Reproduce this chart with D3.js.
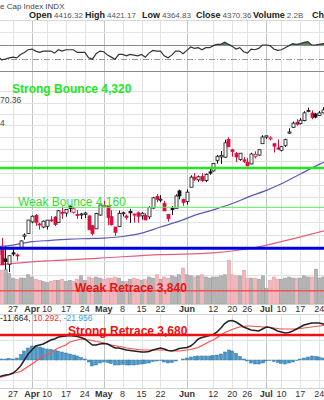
<!DOCTYPE html>
<html><head><meta charset="utf-8">
<script src="https://cdn.jsdelivr.net/npm/d3@7"></script>
<style>html,body{margin:0;padding:0;background:#fff;overflow:hidden}svg{display:block;font-family:"Liberation Sans",Arial,sans-serif}</style>
</head><body><svg id="c" width="324" height="400"></svg>
<script>
// ---------- DATA ----------
const dates = ["03-20","03-21","03-22","03-23","03-24","03-27","03-28","03-29","03-30","03-31",
"04-03","04-04","04-05","04-06","04-10","04-11","04-12","04-13","04-14","04-17","04-18","04-19","04-20","04-21","04-24","04-25","04-26","04-27","04-28",
"05-01","05-02","05-03","05-04","05-05","05-08","05-09","05-10","05-11","05-12","05-15","05-16","05-17","05-18","05-19","05-22","05-23","05-24","05-25","05-26","05-30","05-31",
"06-01","06-02","06-05","06-06","06-07","06-08","06-09","06-12","06-13","06-14","06-15","06-16","06-20","06-21","06-22","06-23","06-26","06-27","06-28","06-29","06-30",
"07-03","07-05","07-06","07-07","07-10","07-11","07-12","07-13","07-14","07-17","07-18","07-19","07-20","07-21","07-24","07-25","07-26"];
const open = [3917,3975,4002,3959,3939,3982,3974,3999,4046,4057,4102,4128,4094,4082,4085,4110,4121,4100,4140,4137,4164,4140,4131,4132,4132,4126,4087,4075,4129,
4166,4165,4123,4082,4084,4136,4125,4143,4133,4138,4126,4127,4122,4157,4204,4191,4176,4132,4156,4156,4226,4191,
4183,4241,4282,4271,4285,4268,4304,4308,4352,4366,4365,4440,4396,4380,4355,4354,4344,4337,4367,4374,4422,
4450,4442,4422,4404,4394,4415,4467,4492,4514,4508,4521,4563,4554,4550,4543,4555,4559];
const high = [3956,4009,4039,4007,3972,3996,3979,4030,4057,4110,4128,4133,4099,4108,4109,4125,4125,4150,4163,4152,4169,4162,4149,4138,4142,4127,4090,4138,4170,
4186,4165,4148,4083,4147,4143,4131,4154,4135,4143,4141,4136,4164,4202,4213,4209,4186,4133,4165,4212,4231,4195,
4232,4290,4299,4289,4299,4298,4322,4340,4375,4391,4439,4449,4400,4387,4382,4366,4362,4384,4390,4398,4458,
4456,4454,4422,4440,4412,4443,4488,4517,4527,4532,4562,4578,4565,4555,4563,4580,4583];
const low = [3916,3971,3936,3919,3909,3970,3952,3999,4033,4056,4097,4087,4072,4077,4072,4102,4086,4099,4114,4123,4140,4135,4114,4113,4117,4071,4049,4075,4127,
4164,4089,4088,4048,4084,4124,4111,4098,4099,4099,4111,4109,4113,4154,4180,4180,4145,4103,4129,4156,4192,4166,
4171,4241,4266,4263,4263,4262,4292,4305,4338,4337,4362,4407,4367,4345,4350,4341,4328,4335,4360,4371,4422,
4442,4436,4385,4397,4389,4408,4463,4490,4499,4504,4518,4557,4527,4531,4541,4553,4547];
const close = [3951.6,4002.9,3937.0,3948.7,3971.0,3977.5,3971.3,4027.8,4050.8,4109.3,4124.5,4100.6,4090.4,4105.0,4109.1,4108.9,4092.0,4146.2,4137.6,4151.3,4154.9,4154.5,4129.8,4133.5,4137.0,4071.6,4056.0,4135.4,4169.5,
4167.9,4119.6,4090.8,4061.2,4136.3,4138.1,4119.2,4137.6,4130.6,4124.1,4136.3,4109.9,4158.8,4198.1,4192.0,4192.6,4145.6,4115.2,4151.3,4205.5,4205.5,4179.8,
4221.0,4282.4,4273.8,4283.9,4267.5,4293.9,4298.9,4338.9,4369.0,4372.6,4425.8,4409.6,4388.7,4365.7,4381.9,4348.3,4328.8,4378.4,4376.9,4396.4,4450.4,
4455.6,4446.8,4411.6,4399.0,4409.5,4439.3,4472.2,4510.0,4505.4,4522.8,4555.0,4565.7,4534.9,4536.3,4554.6,4567.5,4566.8];
const volume = [2.9,2.8,3.0,3.1,2.7,2.3,2.2,2.3,2.3,2.6,2.4,2.2,2.1,2.0,1.9,2.0,2.1,2.1,2.2,2.0,2.1,2.0,2.2,2.5,2.1,2.4,2.3,2.4,2.3,
2.2,2.3,2.3,2.4,2.3,2.0,2.0,2.2,2.3,2.2,2.1,2.2,2.4,2.3,2.6,2.2,2.4,2.3,2.5,2.4,2.6,3.2,
2.6,2.5,2.4,2.5,2.6,2.4,2.3,2.4,2.4,2.5,2.6,3.9,2.6,2.5,2.5,3.0,2.3,2.3,2.3,2.2,2.5,
1.4,2.1,2.4,2.2,2.2,2.3,2.4,2.3,2.3,2.3,2.5,2.4,2.4,3.1,2.3,2.4,2.4];
const rsi = [48,53,48,49,51,52,51,56,59,63,64,61,59,61,61,61,58,63,61,63,63,63,59,59,59,51,49,57,61,
60,55,52,49,56,56,54,56,55,54,56,52,58,62,61,61,54,51,55,61,61,57,
62,67,65,66,63,66,66,69,71,71,74,71,68,64,66,60,58,64,63,65,70,
70,69,64,62,63,66,69,72,71,72,74,75,70,70,71,72,72];
const macd = [-36,-34,-32,-30,-29,-26,-20,-12,0,12,20,28,30,32,36,40,42,46,47,48,49,48,47,45,42,36,30,30,32,
33,32,28,24,24,22,20,19,18,17,16,16,17,20,22,24,22,19,18,20,23,24,
25,28,34,42,45,47,49,51,56,64,73,78,79,76,71,66,63,60,59,58,62,
66,65,62,58,56,54,55,58,62,66,70,72,74,74,74,72,72];
const signal = [-36,-35,-34,-32,-29,-27,-25,-23,-18,-13,-8,-3,3,8,10,15,20,24,27,30,36,38,40,42,41,40,39,37,36,
34,32,30,29,27,26,24,23,22,21,20,20,20,20,20,20,20,19,19,18,18,19,
20,21,23,25,29,33,37,40,45,50,55,58,61,64,66,67,68,68,67,67,66,
66,65,64,63,62,62,62,62,62,63,64,65,66,67,68,69,70];
const hist = [0,1,2,2,3,2,4,11,18,24,28,28,26,24,22,21,19,18,16,14,12,10,8,5,2,-4,-12,-10,-6,
-4,-5,-7,-10,-10,-9,-10,-10,-10,-9,-8,-7,-6,-3,-2,-1,-4,-6,-5,-2,0,2,
4,6,7,8,8,8,8,9,10,12,16,20,18,13,7,2,-2,-6,-8,-8,-6,
-2,-1,-3,-5,-7,-8,-6,-4,-1,2,4,6,8,7,6,4,3];
const ma50Day = [0,5,10,15,20,25,29,34,39,44,49,53,58,63,67,72,76,81,86,88];
const ma50 = [4005,4012,4025,4030,4035,4037,4039,4045,4058,4082,4105,4128,4150,4175,4200,4228,4255,4295,4335,4350];
const ma200Day = [0,7,15,28,44,58,65,71,79,88];
const ma200 = [3934,3944,3952,3962,3975,3982,3993,4008,4036,4070];
const tickDay = [5,10,14,19,24,29,34,39,44,51,58,63,67,72,76,81,86];
const tickLabel = ["27","Apr","10","17","24","May","8","15","22","Jun","12","20","26","Jul","10","17","24"];
const tickMonth = [false,true,false,false,false,true,false,false,false,true,false,false,false,true,false,false,false];
const priceGrid = [3850,3900,3950,4000,4050,4100,4150,4200,4250,4300,4350,4400,4450,4500,4550,4600,4650];
const levels = [4320,4160,4000,3840,3680];
const levelText = ["Strong Bounce 4,320","Weak Bounce 4,160","","Weak Retrace 3,840","Strong Retrace 3,680"];
const titleText = "e Cap Index INDX";
const quoteLabels = ["Open","High","Low","Close","Volume","Ch"];
const quoteValues = ["4416.32","4421.17","4364.83","4370.36","2.2B",""];
const legendTexts = ["70.36","4"];
const macdLegend = ["-11.664, ","10.292, ","-21.956"];

// ---------- LAYOUT / STYLE ----------
const W = 324, H = 400;
const P = {rsiTop:20, rsiBot:72, priceTop:72, priceBot:304, macdTop:314, macdBot:388};
const quoteX = [29,85,142,196,253,312];
const levelStyle = [
  {c:"#22e622", w:2.5, tc:"#22e622", bold:true, tx:12, dy:-75},
  {c:"#55ee55", w:1, tc:"#33dd33", bold:false, tx:18, dy:-1},
  {c:"#0000dd", w:3, tc:"#0000dd", bold:true, tx:0, dy:0},
  {c:"#ee5555", w:1.5, tc:"#ee1111", bold:true, tx:75, dy:1},
  {c:"#ee1111", w:2.5, tc:"#ee1111", bold:true, tx:68, dy:-0.5}
];
const RED = "#dd1040", BLK = "#111";

const svg = d3.select("#c");
const x = d3.scaleLinear().domain([5,86]).range([13,319.2]);
const yP = d3.scaleLog().domain([3680,4320]).range([335,168]);
const yR = d3.scaleLinear().domain([30,70]).range([72,45]);
const yM = d3.scaleLinear().domain([0,20]).range([360,350]);
const yV = d3.scaleLinear().domain([0,4.8]).range([P.priceBot,250]);
const idx = d3.range(dates.length);

const defs = svg.append("defs");
function clip(id,y0,y1){defs.append("clipPath").attr("id",id).append("rect").attr("x",0).attr("y",y0).attr("width",W).attr("height",y1-y0);}
clip("cr",P.rsiTop,P.rsiBot); clip("cp",P.priceTop,P.priceBot); clip("cm",P.macdTop,P.macdBot);

// header
svg.append("text").attr("x",0).attr("y",9).attr("font-size",8).attr("fill","#444").text(titleText);
quoteLabels.forEach((l,i)=>{
  const t = svg.append("text").attr("x",quoteX[i]).attr("y",17.8).attr("font-size",9);
  t.append("tspan").attr("font-weight","bold").attr("fill","#222").text(l);
  if(quoteValues[i]) t.append("tspan").attr("dx",2).attr("font-size",8).attr("fill","#555").text(quoteValues[i]);
});

// vertical grid for all panels
[[P.rsiTop,P.rsiBot],[P.priceTop,P.priceBot],[P.macdTop,P.macdBot]].forEach(([a,b])=>{
  svg.append("g").selectAll("line").data(tickDay).join("line")
    .attr("x1",d=>Math.round(x(d))+0.5).attr("x2",d=>Math.round(x(d))+0.5)
    .attr("y1",a).attr("y2",b)
    .attr("stroke",(d,i)=>tickMonth[i]?"#c4c4c4":"#e2e2e2").attr("stroke-width",1);
});

// ---------- RSI ----------
const gR = svg.append("g").attr("clip-path","url(#cr)");
gR.append("line").attr("x1",0).attr("x2",W).attr("y1",P.rsiTop+0.5).attr("y2",P.rsiTop+0.5).attr("stroke","#d8d8d8");
gR.append("line").attr("x1",0).attr("x2",W).attr("y1",Math.round(yR(90))+0.5).attr("y2",Math.round(yR(90))+0.5).attr("stroke","#e4e4e4");
const rsiLine = d3.line().x(i=>x(i)).y(i=>yR(rsi[i]));
gR.append("path").datum(idx).attr("fill","#4f8a4f")
  .attr("d",d3.area().x(i=>x(i)).y0(yR(70)).y1(i=>yR(Math.max(70,rsi[i]))));
gR.append("line").attr("x1",0).attr("x2",W).attr("y1",Math.round(yR(70))+0.5).attr("y2",Math.round(yR(70))+0.5).attr("stroke","#8a8a8a");
gR.append("line").attr("x1",0).attr("x2",W).attr("y1",Math.round(yR(50))+0.5).attr("y2",Math.round(yR(50))+0.5).attr("stroke","#999").attr("stroke-dasharray","6,2,1,2");
gR.append("path").datum(idx).attr("fill","none").attr("stroke","#333").attr("stroke-width",1.2).attr("d",rsiLine);

// ---------- PRICE ----------
const gP = svg.append("g").attr("clip-path","url(#cp)");
gP.append("g").selectAll("line").data(priceGrid).join("line")
  .attr("x1",0).attr("x2",W).attr("y1",d=>Math.round(yP(d))+0.5).attr("y2",d=>Math.round(yP(d))+0.5)
  .attr("stroke","#e2e2e2");
svg.append("line").attr("x1",0).attr("x2",W).attr("y1",P.priceTop-0.5).attr("y2",P.priceTop-0.5).attr("stroke","#8a8a8a");
// volume
const up = i => i===0 || close[i] >= close[i-1];
gP.append("g").selectAll("rect").data(idx).join("rect")
  .attr("x",i=>Math.round(x(i)-1.9)+0.5).attr("width",3)
  .attr("y",i=>yV(volume[i])).attr("height",i=>P.priceBot-yV(volume[i]))
  .attr("fill",i=>up(i)?"#b4b4b4":"#f1b8be").attr("stroke",i=>up(i)?"#9a9a9a":"#e79aa3").attr("stroke-width",0.6);
// MAs
gP.append("path").datum(d3.range(ma200.length)).attr("fill","none").attr("stroke","#e0607a").attr("stroke-width",1.2)
  .attr("d",d3.line().curve(d3.curveMonotoneX).x(k=>x(ma200Day[k])).y(k=>yP(ma200[k])));
gP.append("path").datum(d3.range(ma50.length)).attr("fill","none").attr("stroke","#5a5ab8").attr("stroke-width",1.2)
  .attr("d",d3.line().curve(d3.curveMonotoneX).x(k=>x(ma50Day[k])).y(k=>yP(ma50[k])));
// candles
const gc = gP.append("g");
idx.forEach(i=>{
  const col = up(i)?BLK:RED;
  const cx = Math.round(x(i))+0.5;
  gc.append("line").attr("x1",cx).attr("x2",cx).attr("y1",yP(high[i])).attr("y2",yP(low[i])).attr("stroke",col).attr("stroke-width",1);
  const t = yP(Math.max(open[i],close[i])), b = yP(Math.min(open[i],close[i]));
  const hollow = close[i] >= open[i];
  gc.append("rect").attr("x",cx-1.5).attr("width",3).attr("y",t).attr("height",Math.max(1,b-t))
    .attr("fill",hollow?"#fff":col).attr("stroke",col).attr("stroke-width",0.8);
});
svg.append("line").attr("x1",0).attr("x2",W).attr("y1",P.priceBot+0.5).attr("y2",P.priceBot+0.5).attr("stroke","#d0d0d0");
// legend fragments
svg.selectAll(".lg").data(legendTexts).join("text").attr("x",0).attr("y",(d,i)=>[103,126][i])
  .attr("font-size",8.5).attr("fill","#444").text(d=>d);

// axes labels
function axisLabels(y){
  svg.append("g").selectAll("text").data(tickDay).join("text")
    .attr("x",d=>x(d)).attr("y",y).attr("text-anchor","middle").attr("font-size",9)
    .attr("font-weight",(d,i)=>tickMonth[i]?"bold":"normal").attr("fill","#333")
    .text((d,i)=>tickLabel[i]);
}
axisLabels(312); axisLabels(397);

// ---------- MACD ----------
const gM = svg.append("g").attr("clip-path","url(#cm)");
svg.append("line").attr("x1",0).attr("x2",W).attr("y1",P.macdTop+0.5).attr("y2",P.macdTop+0.5).attr("stroke","#d0d0d0");
svg.append("line").attr("x1",0).attr("x2",W).attr("y1",P.macdBot+0.5).attr("y2",P.macdBot+0.5).attr("stroke","#d0d0d0");
[40,-40].forEach(v=>gM.append("line").attr("x1",0).attr("x2",W).attr("y1",Math.round(yM(v))+0.5).attr("y2",Math.round(yM(v))+0.5).attr("stroke","#e4e4e4"));
gM.append("g").selectAll("rect").data(idx).join("rect")
  .attr("x",i=>Math.round(x(i)-1.9)+0.5).attr("width",3)
  .attr("y",i=>Math.min(yM(0),yM(hist[i]))).attr("height",i=>Math.abs(yM(hist[i])-yM(0)))
  .attr("fill","#4a97c6").attr("stroke","#2f7aa8").attr("stroke-width",0.5);
gM.append("path").datum(idx).attr("fill","none").attr("stroke","#ff4d4d").attr("stroke-width",1.2)
  .attr("d",d3.line().x(i=>x(i)).y(i=>yM(signal[i])));
gM.append("path").datum(idx).attr("fill","none").attr("stroke","#222").attr("stroke-width",1.5)
  .attr("d",d3.line().x(i=>x(i)).y(i=>yM(macd[i])));
const ml = svg.append("text").attr("x",0).attr("y",321).attr("font-size",8.5);
["#222","#ee3333","#3aa0d8"].forEach((c,i)=>ml.append("tspan").attr("fill",c).text(macdLegend[i]));

// ---------- ANNOTATION LEVELS ----------
levels.forEach((lv,i)=>{
  const s = levelStyle[i], y = yP(lv);
  svg.append("line").attr("x1",0).attr("x2",W).attr("y1",y).attr("y2",y).attr("stroke",s.c).attr("stroke-width",s.w);
  if(levelText[i]) svg.append("text").attr("x",s.tx).attr("y",y+s.dy).attr("font-size",12)
    .attr("font-weight",s.bold?"bold":"normal").attr("fill",s.tc).text(levelText[i]);
});
</script></body></html>
